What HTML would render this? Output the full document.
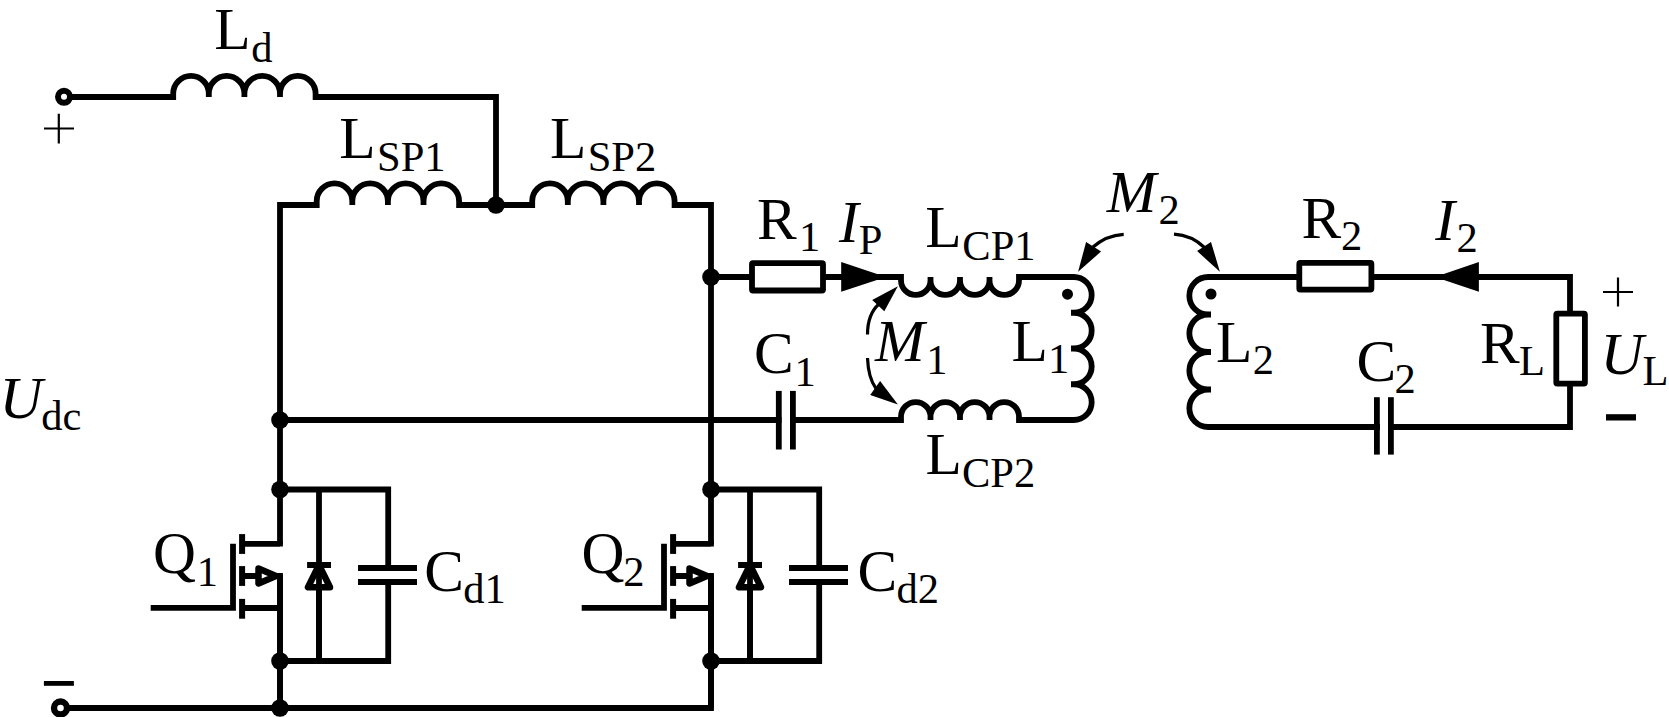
<!DOCTYPE html>
<html><head><meta charset="utf-8"><style>
html,body{margin:0;padding:0;background:#fff;}
svg{display:block;}
text{font-family:"Liberation Serif",serif;fill:#000;}
</style></head><body>
<svg width="1669" height="717" viewBox="0 0 1669 717">
<rect width="1669" height="717" fill="#fff"/>
<path d="M70,97 H173.2 v-3.30 a17.800,17.800 0 0 1 35.600,0 v3.30 v-3.30 a17.800,17.800 0 0 1 35.600,0 v3.30 v-3.30 a17.800,17.800 0 0 1 35.600,0 v3.30 v-3.30 a17.800,17.800 0 0 1 35.600,0 v3.30 H496 V205" stroke="#000" stroke-width="5.8" fill="none" />
<path d="M280,544 V205 H316.7 v-3.80 a17.800,17.800 0 0 1 35.600,0 v3.80 v-3.80 a17.800,17.800 0 0 1 35.600,0 v3.80 v-3.80 a17.800,17.800 0 0 1 35.600,0 v3.80 v-3.80 a17.800,17.800 0 0 1 35.600,0 v3.80 H532.2 v-3.80 a17.800,17.800 0 0 1 35.600,0 v3.80 v-3.80 a17.800,17.800 0 0 1 35.600,0 v3.80 v-3.80 a17.800,17.800 0 0 1 35.600,0 v3.80 v-3.80 a17.800,17.800 0 0 1 35.600,0 v3.80 H711 V544" stroke="#000" stroke-width="5.8" fill="none" />
<path d="M67,708 H711 V575" stroke="#000" stroke-width="5.8" fill="none" />
<path d="M280,575 V708" stroke="#000" stroke-width="5.8" fill="none" />
<path d="M711,277 H901 v3.20 a14.750,14.750 0 0 0 29.500,0 v-3.20 v3.20 a14.750,14.750 0 0 0 29.500,0 v-3.20 v3.20 a14.750,14.750 0 0 0 29.500,0 v-3.20 v3.20 a14.750,14.750 0 0 0 29.500,0 v-3.20 H1071 h2.80 a17.875,17.875 0 0 1 0,35.750 h-2.80 h2.80 a17.875,17.875 0 0 1 0,35.750 h-2.80 h2.80 a17.875,17.875 0 0 1 0,35.750 h-2.80 h2.80 a17.875,17.875 0 0 1 0,35.750 h-2.80 H1019.0 v-3.20 a14.750,14.750 0 0 0 -29.500,0 v3.20 v-3.20 a14.750,14.750 0 0 0 -29.500,0 v3.20 v-3.20 a14.750,14.750 0 0 0 -29.500,0 v3.20 v-3.20 a14.750,14.750 0 0 0 -29.500,0 v3.20 H280" stroke="#000" stroke-width="5.8" fill="none" />
<rect x="752" y="263.2" width="71" height="27.3" rx="1" stroke="#000" stroke-width="5.8" fill="#fff"/>
<path d="M841.2,262 L886,277 L841.2,291.8 Z" fill="#000"/>
<rect x="781.5" y="410" width="8.5" height="20" fill="#fff"/>
<rect x="775.9" y="390.9" width="5.8" height="58.6" fill="#000"/>
<rect x="790" y="390.9" width="5.8" height="58.6" fill="#000"/>
<path d="M1211,277 H1570 V427 H1211" stroke="#000" stroke-width="5.8" fill="none" />
<path d="M1211,277 h-2.90 a18.750,18.750 0 0 0 0,37.500 h2.90 h-2.90 a18.750,18.750 0 0 0 0,37.500 h2.90 h-2.90 a18.750,18.750 0 0 0 0,37.500 h2.90 h-2.90 a18.750,18.750 0 0 0 0,37.500 h2.90" stroke="#000" stroke-width="5.8" fill="none" />
<rect x="1299.3" y="262.9" width="72.1" height="26.7" rx="1" stroke="#000" stroke-width="5.8" fill="#fff"/>
<rect x="1556.3" y="313.6" width="28.6" height="70" rx="1" stroke="#000" stroke-width="5.8" fill="#fff"/>
<path d="M1435,277 L1478.9,262 L1478.9,291.8 Z" fill="#000"/>
<rect x="1380" y="415" width="8" height="20" fill="#fff"/>
<rect x="1374" y="397.2" width="5.8" height="57.4" fill="#000"/>
<rect x="1388" y="397.2" width="5.8" height="57.4" fill="#000"/>
<circle cx="64" cy="96.8" r="6" stroke="#000" stroke-width="6" fill="#fff"/>
<circle cx="60.5" cy="708" r="6.5" stroke="#000" stroke-width="6.4" fill="#fff"/>
<g transform="translate(0,0)">
<path d="M280,546.6 V543.8 H245 M280,573 V708 M245,608 H280 M245,576 H258 M150.7,607.8 H233 V543.8" stroke="#000" stroke-width="5.8" fill="none"/>
<rect x="239.1" y="534.1" width="6" height="19.8" fill="#000"/>
<rect x="239.1" y="566.1" width="6" height="19.8" fill="#000"/>
<rect x="239.1" y="598.9" width="6" height="19.8" fill="#000"/>
<path d="M258.5,568.5 L276,576 L258.5,583.5 Z" stroke="#000" stroke-width="6.5" stroke-linejoin="round" fill="#fff"/>
<path d="M280,489.5 H388.2 V568 M388.2,582 V661 H280 M319,489.5 V661" stroke="#000" stroke-width="5.8" fill="none"/>
<rect x="307.1" y="562" width="23.9" height="6" fill="#000"/>
<path d="M319,565 L308,587.3 H330 Z" stroke="#000" stroke-width="6.5" stroke-linejoin="round" fill="#fff"/>
<path d="M319,565 V661" stroke="#000" stroke-width="5.8"/>
<rect x="358" y="565" width="59" height="6" fill="#000"/>
<rect x="358" y="579" width="59" height="6" fill="#000"/>
</g>
<g transform="translate(431,0)">
<path d="M280,546.6 V543.8 H245 M280,573 V708 M245,608 H280 M245,576 H258 M150.7,607.8 H233 V543.8" stroke="#000" stroke-width="5.8" fill="none"/>
<rect x="239.1" y="534.1" width="6" height="19.8" fill="#000"/>
<rect x="239.1" y="566.1" width="6" height="19.8" fill="#000"/>
<rect x="239.1" y="598.9" width="6" height="19.8" fill="#000"/>
<path d="M258.5,568.5 L276,576 L258.5,583.5 Z" stroke="#000" stroke-width="6.5" stroke-linejoin="round" fill="#fff"/>
<path d="M280,489.5 H388.2 V568 M388.2,582 V661 H280 M319,489.5 V661" stroke="#000" stroke-width="5.8" fill="none"/>
<rect x="307.1" y="562" width="23.9" height="6" fill="#000"/>
<path d="M319,565 L308,587.3 H330 Z" stroke="#000" stroke-width="6.5" stroke-linejoin="round" fill="#fff"/>
<path d="M319,565 V661" stroke="#000" stroke-width="5.8"/>
<rect x="358" y="565" width="59" height="6" fill="#000"/>
<rect x="358" y="579" width="59" height="6" fill="#000"/>
</g>
<circle cx="496" cy="205" r="8.8" fill="#000"/>
<circle cx="711" cy="277" r="8.8" fill="#000"/>
<circle cx="280" cy="420" r="8.8" fill="#000"/>
<circle cx="280" cy="489.5" r="8.8" fill="#000"/>
<circle cx="280" cy="661" r="8.8" fill="#000"/>
<circle cx="280" cy="708" r="8.8" fill="#000"/>
<circle cx="711" cy="489.5" r="8.8" fill="#000"/>
<circle cx="711" cy="661" r="8.8" fill="#000"/>
<circle cx="1067.5" cy="294.2" r="5.5" fill="#000"/>
<circle cx="1211" cy="294" r="5.5" fill="#000"/>
<path d="M897.9,286.2 L872.2,300.1 L884.3,311.3 Z" fill="#000"/>
<path d="M867.5,334.5 C867.5,322 870,312 879,304" stroke="#000" stroke-width="3.2" fill="none"/>
<path d="M897.9,404.4 L880.1,381.1 L870.2,394.9 Z" fill="#000"/>
<path d="M867.5,358 C868,371 870.5,381 876,388.5" stroke="#000" stroke-width="3.2" fill="none"/>
<path d="M1078.1,271.7 L1086.1,242 L1101.1,251.5 Z" fill="#000"/>
<path d="M1123.7,234.3 C1112,235 1102,239 1093,247" stroke="#000" stroke-width="3.2" fill="none"/>
<path d="M1219.9,271.7 L1211,242 L1197.1,251.1 Z" fill="#000"/>
<path d="M1174,234.2 C1186.5,235 1196,239.5 1204.5,247.5" stroke="#000" stroke-width="3.2" fill="none"/>
<path d="M44,128.5 H74 M58.8,113.7 V143.5 M1603,292 H1633 M1618,277.4 V306.5" stroke="#000" stroke-width="2.2"/>
<rect x="43.9" y="681" width="30" height="4.8" fill="#000"/>
<rect x="1606" y="414.2" width="30" height="6.3" fill="#000"/>
<text x="214.2" y="48.7" font-size="59.5">L</text>
<text x="251.2" y="61.5" font-size="42.5">d</text>
<text x="339.3" y="158" font-size="59.5">L</text>
<text x="377.0" y="171" font-size="42.5">SP1</text>
<text x="550" y="158" font-size="59.5">L</text>
<text x="587.7" y="171" font-size="42.5">SP2</text>
<text x="757.1" y="238.8" font-size="59.5">R</text>
<text x="799.0" y="251" font-size="42.5">1</text>
<text x="839.1" y="241.8" font-size="59.5" font-style="italic">I</text>
<text x="858.7" y="254" font-size="42.5">P</text>
<text x="925.3" y="247" font-size="59.5">L</text>
<text x="962.3" y="259.8" font-size="42.5">CP1</text>
<text x="875.1" y="361.3" font-size="59.5" font-style="italic">M</text>
<text x="926.3" y="374.3" font-size="42.5">1</text>
<text x="1011.6" y="361.3" font-size="59.5">L</text>
<text x="1048.1" y="373.2" font-size="42.5">1</text>
<text x="1106.7" y="211.8" font-size="59.5" font-style="italic">M</text>
<text x="1158.5" y="223.8" font-size="42.5">2</text>
<text x="1216" y="361.6" font-size="59.5">L</text>
<text x="1252.7" y="374.2" font-size="42.5">2</text>
<text x="1301.6" y="237.8" font-size="59.5">R</text>
<text x="1341.0" y="250.1" font-size="42.5">2</text>
<text x="1435.2" y="240.1" font-size="59.5" font-style="italic">I</text>
<text x="1456.4" y="251.8" font-size="42.5">2</text>
<text x="1480.1" y="362.8" font-size="59.5">R</text>
<text x="1519.0" y="374.8" font-size="42.5">L</text>
<text x="1600.5" y="373.7" font-size="59.5" font-style="italic">U</text>
<text x="1642.4" y="385.4" font-size="42.5">L</text>
<text x="1356.4" y="380.5" font-size="59.5">C</text>
<text x="1394.6" y="392.9" font-size="42.5">2</text>
<text x="754" y="373" font-size="59.5">C</text>
<text x="794.6" y="386" font-size="42.5">1</text>
<text x="925.5" y="474.1" font-size="59.5">L</text>
<text x="962" y="486.8" font-size="42.5">CP2</text>
<text x="-0.46" y="417.5" font-size="59.5" font-style="italic">U</text>
<text x="41.3" y="429.7" font-size="42.5">dc</text>
<text x="153" y="572.9" font-size="59.5">Q</text>
<text x="196.7" y="586.1" font-size="42.5">1</text>
<text x="581.5" y="572.9" font-size="59.5">Q</text>
<text x="623.3" y="585.8" font-size="42.5">2</text>
<text x="424.3" y="590.8" font-size="59.5">C</text>
<text x="463.2" y="603.4" font-size="42.5">d1</text>
<text x="857.5" y="590.8" font-size="59.5">C</text>
<text x="896.4" y="603.4" font-size="42.5">d2</text>
</svg>
</body></html>
